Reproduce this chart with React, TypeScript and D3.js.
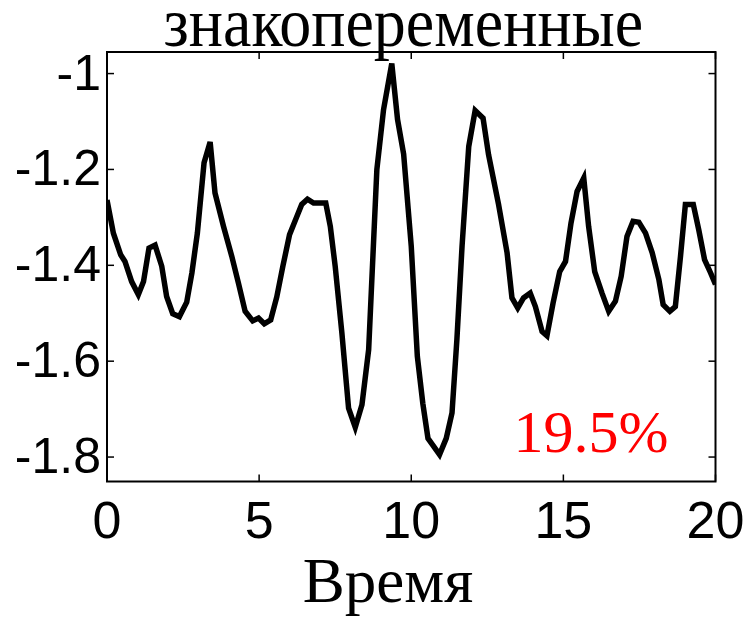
import React, { useEffect, useRef } from "react";
import * as d3 from "d3";

// Sample times (s) and signal values of the alternating-sign response
const times = [
  0, 0.21, 0.45, 0.59, 0.81, 1.03, 1.2, 1.38, 1.58, 1.8, 1.96, 2.16, 2.38, 2.62, 2.79, 2.97,
  3.19, 3.39, 3.55, 3.83, 4.1, 4.32, 4.54, 4.79, 4.98, 5.17, 5.38, 5.58, 5.78, 6.0, 6.24,
  6.4, 6.59, 6.79, 7.19, 7.34, 7.5, 7.72, 7.94, 8.16, 8.38, 8.6, 8.87, 9.09, 9.36, 9.55,
  9.75, 10.0, 10.2, 10.38, 10.55, 10.72, 10.93, 11.15, 11.34, 11.5, 11.67, 11.89, 12.1,
  12.36, 12.54, 12.87, 13.15, 13.31, 13.5, 13.69, 13.91, 14.08, 14.3, 14.46, 14.66, 14.88,
  15.07, 15.25, 15.45, 15.67, 15.83, 16.03, 16.27, 16.49, 16.71, 16.9, 17.09, 17.29, 17.48,
  17.7, 17.92, 18.14, 18.28, 18.5, 18.68, 18.85, 19.01, 19.27, 19.45, 19.64, 19.84, 20,
];
const values = [
  -1.264, -1.333, -1.378, -1.392, -1.434, -1.461, -1.434, -1.364, -1.358, -1.402, -1.465,
  -1.501, -1.507, -1.477, -1.416, -1.333, -1.186, -1.143, -1.249, -1.319, -1.381, -1.437,
  -1.496, -1.516, -1.51, -1.522, -1.514, -1.466, -1.402, -1.336, -1.298, -1.273, -1.262,
  -1.27, -1.27, -1.319, -1.402, -1.541, -1.698, -1.738, -1.691, -1.576, -1.2, -1.075, -0.979,
  -1.096, -1.168, -1.36, -1.59, -1.688, -1.761, -1.776, -1.795, -1.761, -1.708, -1.555,
  -1.36, -1.152, -1.077, -1.093, -1.169, -1.273, -1.374, -1.468, -1.489, -1.468, -1.458,
  -1.486, -1.538, -1.547, -1.479, -1.413, -1.392, -1.312, -1.246, -1.218, -1.319, -1.413,
  -1.458, -1.496, -1.475, -1.423, -1.34, -1.308, -1.31, -1.333, -1.374, -1.43, -1.482,
  -1.496, -1.486, -1.381, -1.273, -1.273, -1.326, -1.388, -1.416, -1.44,
];
const xTicks = [0, 5, 10, 15, 20];
const yTicks = [-1, -1.2, -1.4, -1.6, -1.8];
const titleText = "знакопеременные";
const xLabel = "Время";
const noteText = "19.5%";

const W = 745;
const H = 619;
const left = 107;
const right = 715.5;
const top = 52;
const bottom = 481.5;

export default function App() {
  const ref = useRef<SVGSVGElement>(null);

  useEffect(() => {
    const svg = d3.select(ref.current);
    svg.selectAll("*").remove();

    const x = d3.scaleLinear().domain([0, 20]).range([left, right]);
    const y = d3.scaleLinear().domain([-1.851, -0.955]).range([bottom, top]);

    const sans = "'Liberation Sans', Arial, sans-serif";
    const serif = "'Liberation Serif', 'Times New Roman', serif";

    // Signal trace, clipped to the axes box
    svg.append("clipPath").attr("id", "plot-clip")
      .append("rect").attr("x", left).attr("y", top)
      .attr("width", right - left).attr("height", bottom - top);

    const line = d3.line<number>()
      .x((_, i) => x(times[i]))
      .y((v) => y(v));

    svg.append("path")
      .datum(values)
      .attr("clip-path", "url(#plot-clip)")
      .attr("d", line)
      .attr("fill", "none")
      .attr("stroke", "#000")
      .attr("stroke-width", 5.5)
      .attr("stroke-linejoin", "miter")
      .attr("stroke-miterlimit", 4);

    // Inward ticks on all four sides
    const tickLen = 7;
    const ticks = svg.append("g").attr("stroke", "#000").attr("stroke-width", 1.5);
    xTicks.forEach((t) => {
      ticks.append("line").attr("x1", x(t)).attr("x2", x(t)).attr("y1", bottom).attr("y2", bottom - tickLen);
      ticks.append("line").attr("x1", x(t)).attr("x2", x(t)).attr("y1", top).attr("y2", top + tickLen);
    });
    yTicks.forEach((t) => {
      ticks.append("line").attr("x1", left).attr("x2", left + tickLen).attr("y1", y(t)).attr("y2", y(t));
      ticks.append("line").attr("x1", right).attr("x2", right - tickLen).attr("y1", y(t)).attr("y2", y(t));
    });

    // Axes box
    svg.append("rect")
      .attr("x", left).attr("y", top)
      .attr("width", right - left).attr("height", bottom - top)
      .attr("fill", "none").attr("stroke", "#000").attr("stroke-width", 2);

    // Tick labels
    svg.append("g").selectAll("text").data(xTicks).join("text")
      .attr("x", (d) => x(d))
      .attr("y", 538)
      .attr("text-anchor", "middle")
      .attr("font-family", sans)
      .attr("font-size", 52)
      .text((d) => String(d));

    svg.append("g").selectAll("text").data(yTicks).join("text")
      .attr("x", 101)
      .attr("y", (d) => y(d) + 16)
      .attr("text-anchor", "end")
      .attr("font-family", sans)
      .attr("font-size", 50)
      .text((d) => String(d));

    // Title, slightly tall in proportion
    svg.append("text")
      .attr("transform", `translate(${(left + right) / 2 - 8},46) scale(1,1.1)`)
      .attr("text-anchor", "middle")
      .attr("font-family", serif)
      .attr("font-size", 64)
      .text(titleText);

    svg.append("text")
      .attr("x", 388)
      .attr("y", 602)
      .attr("text-anchor", "middle")
      .attr("font-family", serif)
      .attr("font-size", 63)
      .text(xLabel);

    svg.append("text")
      .attr("x", 591)
      .attr("y", 452)
      .attr("text-anchor", "middle")
      .attr("font-family", serif)
      .attr("font-size", 60)
      .attr("fill", "#ff0000")
      .text(noteText);
  }, []);

  return (
    <svg
      ref={ref}
      width={W}
      height={H}
      viewBox={`0 0 ${W} ${H}`}
      style={{ position: "absolute", left: 0, top: 0, background: "#fff" }}
    />
  );
}
